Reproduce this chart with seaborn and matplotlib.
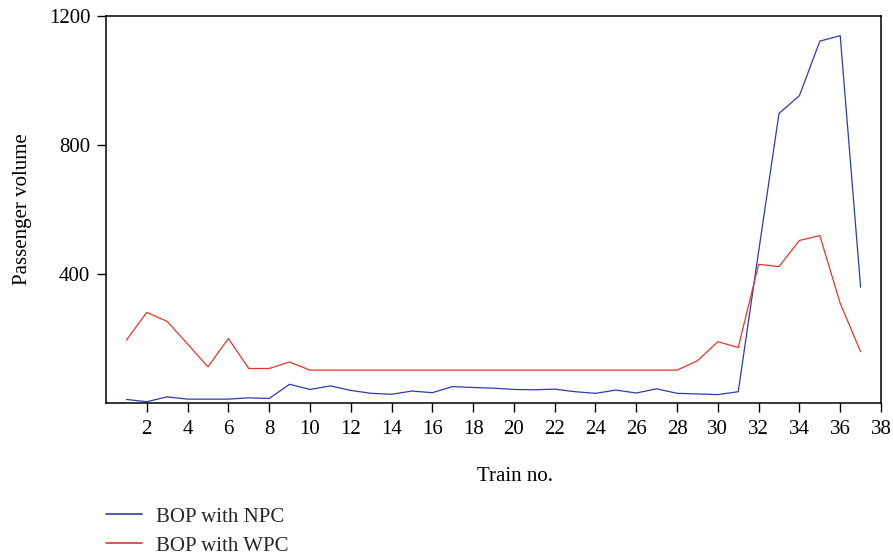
import matplotlib
matplotlib.use("Agg")
import matplotlib.pyplot as plt
import seaborn as sns
import pandas as pd

train_no = list(range(1, 38))
bop_npc = [11, 4, 19, 12, 12, 12, 16, 14, 58, 42, 53, 39, 30, 27, 37, 32, 51, 48, 46,
           42, 41, 43, 35, 30, 40, 31, 44, 30, 28, 26, 35, 470, 898, 953, 1122, 1139, 359]
bop_wpc = [195, 281, 253, 183, 112, 200, 107, 107, 127, 102, 102, 102, 102, 102, 102,
           102, 102, 102, 102, 102, 102, 102, 102, 102, 102, 102, 102, 102, 131, 190,
           172, 430, 423, 504, 519, 309, 159]
series_names = ["BOP with NPC", "BOP with WPC"]
x_ticks = list(range(2, 39, 2))
y_ticks = [400, 800, 1200]

df = pd.DataFrame({
    "Train no.": train_no * 2,
    "Passenger volume": bop_npc + bop_wpc,
    "series": [series_names[0]] * len(train_no) + [series_names[1]] * len(train_no),
})

sns.set_theme(style="white")
plt.rcParams["font.family"] = ["Liberation Serif", "DejaVu Serif"]

fs = 15
fig = plt.figure(figsize=(8.93, 5.57), dpi=100)
ax = fig.add_axes([106 / 893, 1 - 403 / 557, 775 / 893, 387 / 557])

sns.lineplot(data=df, x="Train no.", y="Passenger volume", hue="series",
             palette={series_names[0]: "#2a3db0", series_names[1]: "#e8352b"},
             linewidth=0.9, ax=ax, legend=True)

ax.set_xlim(0, 38)
ax.set_ylim(0, 1200)
ax.set_xticks(x_ticks)
ax.set_yticks(y_ticks)
for s in ax.spines.values():
    s.set_color("black")
    s.set_linewidth(1.1)
ax.tick_params(axis="both", direction="out", length=6.3, width=1.0, colors="black",
               labelsize=fs, bottom=True, left=True)
ax.tick_params(axis="x", pad=6)
ax.tick_params(axis="y", pad=5)
ax.set_xlabel("Train no.", fontsize=fs, color="black")
ax.set_ylabel("Passenger volume", fontsize=fs, color="black")
ax.xaxis.set_label_coords(0.528, -0.165)
ax.yaxis.set_label_coords(-0.095, 0.5)

handles, labels = ax.get_legend_handles_labels()
leg = ax.legend(handles, labels, loc="upper left",
                bbox_to_anchor=(106 / 893, 1 - 507 / 557), bbox_transform=fig.transFigure,
                frameon=False, fontsize=fs, handlelength=1.75, handletextpad=0.65,
                labelspacing=0.46, borderpad=0, borderaxespad=0)
for line in leg.get_lines():
    line.set_linewidth(1.2)

fig.savefig("out.png", dpi=100)
